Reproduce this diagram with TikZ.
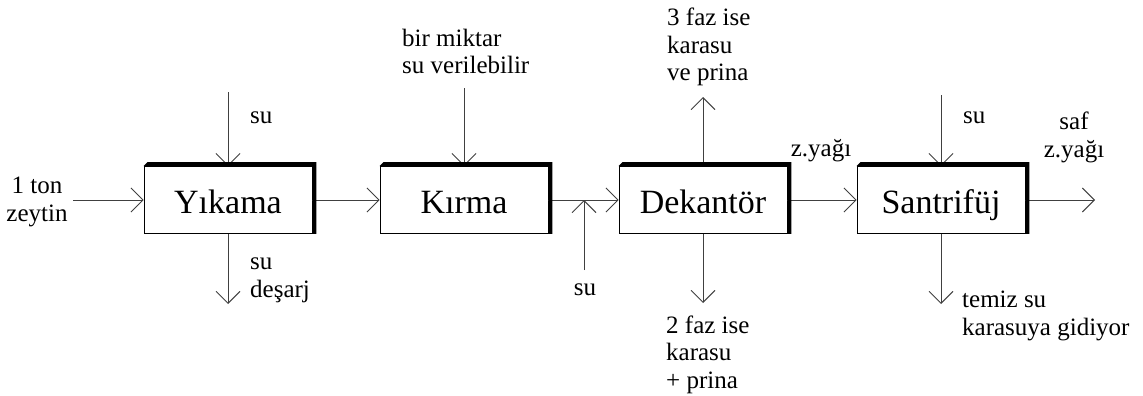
\documentclass[tikz,border=0pt]{standalone}
\usepackage{fontspec}
\setmainfont{Liberation Serif}
\usetikzlibrary{arrows.meta}
\begin{document}
\begin{tikzpicture}[x=1pt,y=-1pt,
  flow/.style={draw=black!75, line width=0.9pt,
    -{Straight Barb[length=12pt,width=24pt,line width=0.9pt]}},
  unit/.style={draw, line width=0.8pt, fill=white, minimum width=168pt,
    minimum height=67pt, inner sep=0pt, text height=30pt, text depth=4pt,
    font=\fontsize{34}{40}\selectfont},
  lbl/.style={inner sep=0pt, font=\fontsize{25}{27.5}\selectfont, align=left, anchor=base west},
  clbl/.style={inner sep=0pt, font=\fontsize{25}{27.5}\selectfont, align=center, anchor=base}]
\useasboundingbox (0,0) rectangle (1143,396);

% process units
\node[unit] (yik) at (228,200) {Yıkama};
\node[unit] (kir) at (464,200) {Kırma};
\node[unit] (dek) at (703,200) {Dekantör};
\node[unit] (san) at (941,200) {Santrifüj};

% free ends of the streams
\coordinate (feed)    at (73,200);
\coordinate (yikwin)  at (228,92);
\coordinate (yikwout) at (228,304);
\coordinate (kirwin)  at (464,88);
\coordinate (mixsrc)  at (584,270);
\coordinate (dek3)    at (703,97);
\coordinate (dek2)    at (703,303);
\coordinate (sanwin)  at (941,95);
\coordinate (sanwout) at (941,304);
\coordinate (prod)    at (1095,200);

% streams
\draw[flow] (feed) -- (yik.west);
\draw[flow] (yik.east) -- (kir.west);
\draw[flow] (kir.east) -- (dek.west);
\draw[flow] (dek.east) -- (san.west);
\draw[flow] (san.east) -- (prod);
\draw[flow] (yikwin) -- (yik.north);
\draw[flow] (yik.south) -- (yikwout);
\draw[flow] (kirwin) -- (kir.north);
\draw[flow] (mixsrc) -- (mixsrc |- dek.west);
\draw[flow] (dek.north) -- (dek3);
\draw[flow] (dek.south) -- (dek2);
\draw[flow] (sanwin) -- (san.north);
\draw[flow] (san.south) -- (sanwout);

% raised edges of the units
\foreach \b in {yik,kir,dek,san}
  \fill (\b.north west) -- ++(4,-4) -- ([shift={(4,-4)}]\b.north east)
    -- ([shift={(4,0)}]\b.south east) -- (\b.south east) -- (\b.north east) -- cycle;

% stream labels (anchored at the baseline of their last line)
\node[clbl] (tfeed) at (37,221) {1 ton\\zeytin};
\node[lbl] (tyikin) at (250,123) {su};
\node[lbl] (tyikout) at (250,297) {su\\deşarj};
\node[lbl] (tkirin) at (402,74) {bir miktar\\su verilebilir};
\node[clbl] (tmix) at (585,295) {su};
\node[lbl] (tdek3) at (667,81) {3 faz ise\\karasu\\ve prina};
\node[lbl] (tdek2) at (666,388) {2 faz ise\\karasu\\+ prina};
\node[clbl] (toil) at (821,156) {z.yağı};
\node[lbl] (tsanin) at (963,123) {su};
\node[clbl] (tprod) at (1074,157) {saf\\z.yağı};
\node[lbl] (tsanout) at (962,335) {temiz su\\karasuya gidiyor};
\end{tikzpicture}
\end{document}
